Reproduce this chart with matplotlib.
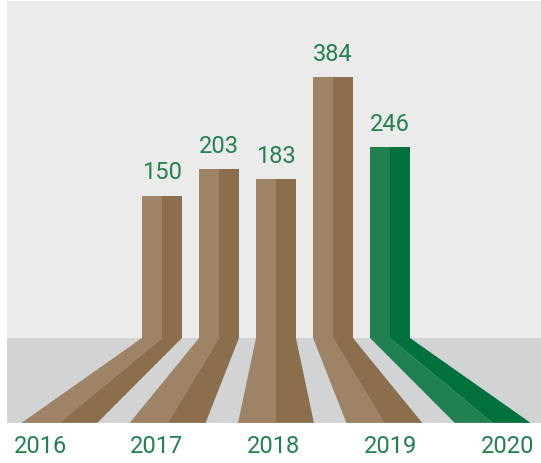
import numpy as np
import matplotlib
matplotlib.use("Agg")
from matplotlib import pyplot as plt
from matplotlib.patches import Rectangle

years = ["2016", "2017", "2018", "2019", "2020"]
values = [150, 203, 183, 384, 246]

light = ["#9e8366", "#9e8366", "#9e8366", "#9e8366", "#208050"]
dark = ["#8b6f4d", "#8b6f4d", "#8b6f4d", "#8b6f4d", "#00703c"]
txt = "#23804f"

plt.rcParams['font.family'] = ['Roboto', 'DejaVu Sans']

# layout, value axis starts below zero so the bars sit on the floor
base = -130.0     # floor top
floor = -297.0    # floor bottom
w = 0.70          # bar width in category units
k = 1.9           # spread of the roads at the floor bottom
c = 2.0           # vanishing centre

fig = plt.figure(figsize=(5.41, 4.63), dpi=100)
ax = fig.add_axes([0, 0, 1, 1])
ax.set_xlim(-2.842, 6.649)
ax.set_ylim(-376, 535)
ax.axis("off")

x0 = -2.72  # left edge of the grey panel
ax.add_patch(Rectangle((x0, base), 10, 663, color="#ebebeb", lw=0, zorder=0))
ax.add_patch(Rectangle((x0, floor), 10, base - floor, color="#d1d3d5", lw=0, zorder=0))

x = np.arange(len(values))
for i, v in enumerate(values):
    l, m, r = x[i] - w / 2, x[i], x[i] + w / 2
    ax.bar(x[i] - w / 4, v - base, w / 2, bottom=base, color=light[i], lw=0, zorder=2)
    ax.bar(x[i] + w / 4, v - base, w / 2, bottom=base, color=dark[i], lw=0, zorder=2)
    sp = lambda p: c + (p - c) * k
    ax.fill([l, m, sp(m), sp(l)], [base, base, floor, floor], color=light[i], lw=0, zorder=1)
    ax.fill([m, r, sp(r), sp(m)], [base, base, floor, floor], color=dark[i], lw=0, zorder=1)
    ax.text(x[i], v + 22, str(v), ha="center", va="bottom", fontsize=17,
            color=txt)

lx = np.linspace(-2.14, 6.06, len(years))
for i, y in enumerate(years):
    ax.text(lx[i], -343, y, ha="center", va="center", fontsize=17,
            color=txt)

fig.savefig("out.png", dpi=100, facecolor="white")
